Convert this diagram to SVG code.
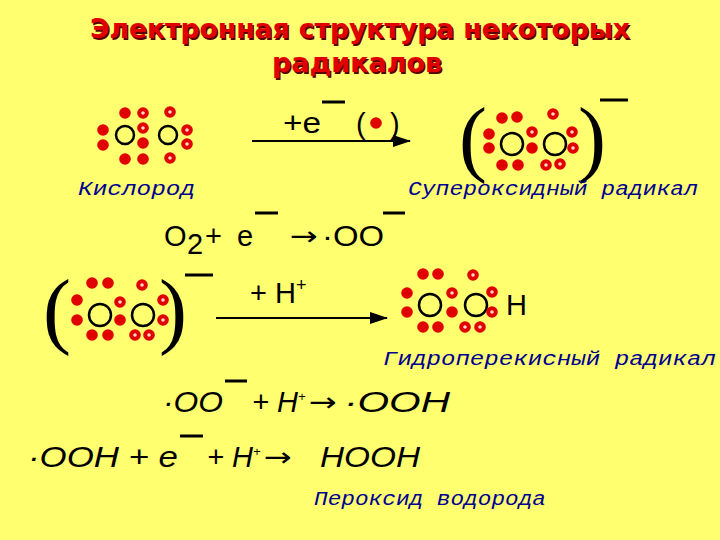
<svg xmlns="http://www.w3.org/2000/svg" width="720" height="540" viewBox="0 0 720 540">
<defs>
<style>
.title{font-family:"DejaVu Sans",sans-serif;font-weight:bold;font-size:27px;fill:#e00000;text-anchor:middle}
.shadow{font-family:"DejaVu Sans",sans-serif;font-weight:bold;font-size:27px;fill:#5a0000;text-anchor:middle}
.lbl{font-family:"Liberation Mono",monospace;font-style:italic;font-size:20px;fill:#000090}
.eq{font-family:"Liberation Sans",Arial,sans-serif;font-size:29px;fill:#000}
.eqi{font-family:"Liberation Sans",Arial,sans-serif;font-style:italic;font-size:29px;fill:#000}
.arr{font-family:"DejaVu Sans",sans-serif;font-size:26px;fill:#000}
.paren{font-family:"Liberation Serif",serif;font-size:84px;fill:#000}
.atom{fill:none;stroke:#000;stroke-width:2.5}
.bar{stroke:#000;stroke-width:3}
.ln{stroke:#000;stroke-width:2}
</style>
<g id="dotS"><circle r="5.8" fill="#e00000"/></g>
<g id="dotH"><circle r="5.8" fill="#e00000"/><circle r="1.8" fill="#ffd8c8"/></g>
<marker id="ah" markerWidth="18" markerHeight="12" refX="17" refY="6" orient="auto" markerUnits="userSpaceOnUse"><path d="M0,0 L18,6 L0,12 Z" fill="#000"/></marker>
</defs>
<rect width="720" height="540" fill="#ffff70"/>

<g id="title">
<text class="shadow" x="361.5" y="39.5" textLength="540" lengthAdjust="spacingAndGlyphs">Электронная структура некоторых</text>
<text class="title" x="360" y="38" textLength="540" lengthAdjust="spacingAndGlyphs">Электронная структура некоторых</text>
<text class="shadow" x="358.5" y="73.5" textLength="170" lengthAdjust="spacingAndGlyphs">радикалов</text>
<text class="title" x="357" y="72" textLength="170" lengthAdjust="spacingAndGlyphs">радикалов</text>
</g>

<g id="o2">
<circle class="atom" cx="125" cy="135" r="9"/><circle class="atom" cx="168" cy="135" r="9"/>
<use href="#dotS" x="103" y="130"/><use href="#dotS" x="103" y="145"/>
<use href="#dotS" x="125" y="113"/><use href="#dotH" x="143" y="113"/><use href="#dotH" x="170" y="112"/>
<use href="#dotH" x="143" y="128"/><use href="#dotS" x="143" y="143"/>
<use href="#dotS" x="125" y="159"/><use href="#dotS" x="143" y="159"/><use href="#dotH" x="170" y="158"/>
<use href="#dotH" x="187" y="130"/><use href="#dotH" x="187" y="144"/>
</g>
<text class="lbl" x="78" y="195" textLength="117" lengthAdjust="spacingAndGlyphs">Кислород</text>

<g id="superoxide">
<text class="paren" x="459" y="166">(</text><text class="paren" x="578" y="166">)</text>
<line class="bar" x1="600" y1="100" x2="628" y2="100"/>
<circle class="atom" cx="512" cy="144" r="11"/><circle class="atom" cx="555" cy="144" r="11"/>
<use href="#dotS" x="502" y="118"/><use href="#dotS" x="517" y="117"/><use href="#dotH" x="553" y="114"/>
<use href="#dotS" x="489" y="134"/><use href="#dotS" x="489" y="148"/>
<use href="#dotH" x="532" y="132"/><use href="#dotS" x="532" y="148"/>
<use href="#dotH" x="572" y="132"/><use href="#dotH" x="573" y="148"/>
<use href="#dotS" x="502" y="165"/><use href="#dotS" x="518" y="165"/><use href="#dotH" x="546" y="165"/><use href="#dotH" x="560" y="164"/>
</g>
<text class="lbl" x="408" y="195" textLength="290" lengthAdjust="spacingAndGlyphs">Супероксидный радикал</text>

<g id="superoxide2">
<text class="paren" x="43" y="338">(</text><text class="paren" x="159" y="338">)</text>
<line class="bar" x1="185" y1="275" x2="213" y2="275"/>
<circle class="atom" cx="100" cy="315" r="11"/><circle class="atom" cx="143" cy="315" r="11"/>
<use href="#dotS" x="92" y="283"/><use href="#dotS" x="108" y="283"/><use href="#dotH" x="142" y="285"/>
<use href="#dotS" x="77" y="300"/><use href="#dotS" x="77" y="320"/>
<use href="#dotH" x="120" y="302"/><use href="#dotS" x="120" y="320"/>
<use href="#dotH" x="163" y="300"/><use href="#dotH" x="163" y="320"/>
<use href="#dotS" x="92" y="335"/><use href="#dotS" x="108" y="335"/><use href="#dotH" x="135" y="335"/><use href="#dotH" x="149" y="335"/>
</g>

<g id="hydroperoxyl">
<circle class="atom" cx="430" cy="305" r="11"/><circle class="atom" cx="476" cy="305" r="11"/>
<text class="eq" x="506" y="315">H</text>
<use href="#dotS" x="423" y="274"/><use href="#dotS" x="438" y="274"/><use href="#dotH" x="473" y="275"/>
<use href="#dotS" x="407" y="293"/><use href="#dotS" x="407" y="312"/>
<use href="#dotH" x="452" y="293"/><use href="#dotS" x="452" y="312"/>
<use href="#dotH" x="492" y="292"/><use href="#dotH" x="492" y="312"/>
<use href="#dotS" x="423" y="327"/><use href="#dotS" x="438" y="327"/><use href="#dotH" x="465" y="327"/><use href="#dotH" x="480" y="327"/>
</g>
<text class="lbl" x="383" y="365" textLength="333" lengthAdjust="spacingAndGlyphs">Гидроперекисный радикал</text>

<g id="connectors">
<line class="ln" x1="252" y1="141" x2="410" y2="141" marker-end="url(#ah)"/>
<line class="ln" x1="216" y1="318" x2="387" y2="318" marker-end="url(#ah)"/>
</g>

<g id="arrow-labels">
<text class="eq" x="283" y="133" textLength="38" lengthAdjust="spacingAndGlyphs">+e</text>
<line class="bar" x1="322" y1="102" x2="345" y2="102"/>
<text class="eq" x="356" y="134" font-size="24">(</text>
<use href="#dotS" x="376" y="123"/>
<text class="eq" x="390" y="134" font-size="24">)</text>
<text class="eq" x="250" y="303">+ H<tspan font-size="18" dy="-12">+</tspan></text>
</g>

<g id="equations">
<text class="eq" x="164" y="246">O</text>
<text class="eq" x="187" y="254" font-size="18">2</text>
<text class="eq" x="205" y="246">+</text>
<text class="eq" x="237" y="246">e</text>
<line class="bar" x1="255" y1="213" x2="278" y2="213"/>
<text class="arr" x="290" y="245" textLength="28" lengthAdjust="spacingAndGlyphs">→</text>
<text class="eq" x="322" y="246" textLength="62" lengthAdjust="spacingAndGlyphs">·OO</text>
<line class="bar" x1="383" y1="213" x2="405" y2="213"/>

<text class="eqi" x="163" y="412" textLength="60" lengthAdjust="spacingAndGlyphs">·OO</text>
<line class="bar" x1="225" y1="381" x2="247" y2="381"/>
<text class="eqi" x="252" y="412">+ H<tspan font-size="13" dy="-11">+</tspan></text>
<text class="arr" x="309" y="411" textLength="28" lengthAdjust="spacingAndGlyphs">→</text>
<text class="eqi" x="344" y="412" textLength="106" lengthAdjust="spacingAndGlyphs">·OOH</text>

<text class="eqi" x="28" y="467" textLength="150" lengthAdjust="spacingAndGlyphs">·OOH + e</text>
<line class="bar" x1="180" y1="436" x2="203" y2="436"/>
<text class="eqi" x="207" y="467">+ H<tspan font-size="13" dy="-11">+</tspan></text>
<text class="arr" x="264" y="466" textLength="28" lengthAdjust="spacingAndGlyphs">→</text>
<text class="eqi" x="320" y="467" textLength="100" lengthAdjust="spacingAndGlyphs">HOOH</text>
</g>
<text class="lbl" x="314" y="505" textLength="232" lengthAdjust="spacingAndGlyphs">Пероксид водорода</text>
</svg>
